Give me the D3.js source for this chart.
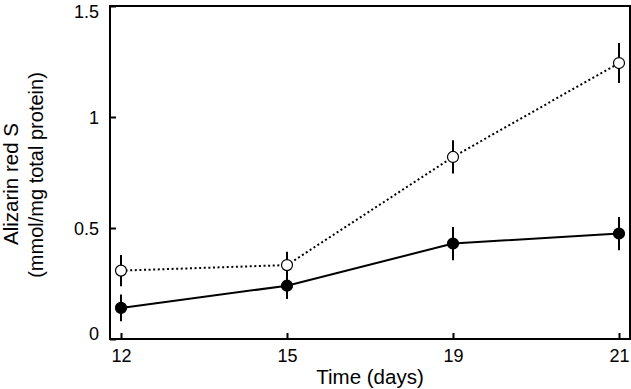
<!DOCTYPE html>
<html>
<head>
<meta charset="utf-8">
<script src="https://cdn.jsdelivr.net/npm/d3@7"></script>
<style>
  body { margin: 0; background: #fff; }
  text { font-family: "Liberation Sans", Arial, sans-serif; fill: #000; }
</style>
</head>
<body>
<svg id="chart" width="631" height="389"></svg>
<script>
// data
const days = ["12", "15", "19", "21"];
const filledMean = [0.14, 0.24, 0.43, 0.475];
const filledErr = [0.06, 0.06, 0.075, 0.075];
const openMean = [0.308, 0.333, 0.82, 1.243];
const openErr = [0.07, 0.06, 0.075, 0.09];
const yTicks = [0, 0.5, 1, 1.5];

const plotLeft = 110, plotRight = 630, plotTop = 6, plotBottom = 339;

const svg = d3.select("#chart");

const x = d3.scalePoint().domain(days).range([121, 619]);
const y = d3.scaleLinear().domain([0, 1.5]).range([plotBottom, plotTop]);

// frame
svg.append("rect")
  .attr("x", plotLeft).attr("y", plotTop)
  .attr("width", plotRight - plotLeft).attr("height", plotBottom - plotTop)
  .attr("fill", "none").attr("stroke", "#000").attr("stroke-width", 2);

// y axis (ticks inward)
const yAxis = svg.append("g")
  .attr("transform", "translate(" + plotLeft + ",0)")
  .call(d3.axisRight(y).tickValues(yTicks).tickSize(6).tickFormat(d3.format("")));
yAxis.select(".domain").remove();
yAxis.selectAll("line").attr("stroke-width", 2);
yAxis.selectAll("text")
  .attr("x", -11)
  .attr("dy", d => d === 0 ? "0.05em" : d === 1.5 ? "0.65em" : "0.35em")
  .attr("text-anchor", "end")
  .style("font-size", "18px");

// x axis (ticks inward)
const xAxis = svg.append("g")
  .attr("transform", "translate(0," + plotBottom + ")")
  .call(d3.axisTop(x).tickSize(6));
xAxis.select(".domain").remove();
xAxis.selectAll("line").attr("stroke-width", 2);
xAxis.selectAll("text")
  .attr("y", 23).attr("dy", 0)
  .attr("text-anchor", "middle")
  .style("font-size", "18px");

// axis titles
svg.append("text")
  .attr("x", 370).attr("y", 384)
  .attr("text-anchor", "middle")
  .style("font-size", "20.5px")
  .text("Time (days)");

svg.append("text")
  .attr("transform", "translate(18,184) rotate(-90)")
  .attr("text-anchor", "middle")
  .style("font-size", "20.5px")
  .text("Alizarin red S");

svg.append("text")
  .attr("transform", "translate(43,175) rotate(-90)")
  .attr("text-anchor", "middle")
  .style("font-size", "20px")
  .text("(mmol/mg total protein)");

function drawSeries(means, errs, dashed, filled) {
  const pts = days.map((d, i) => ({ d: d, m: means[i], e: errs[i] }));
  const line = d3.line().x(p => x(p.d)).y(p => y(p.m));

  svg.append("path")
    .datum(pts)
    .attr("d", line)
    .attr("fill", "none")
    .attr("stroke", "#000")
    .attr("stroke-width", 2)
    .attr("stroke-dasharray", dashed ? "2,2.6" : null);

  svg.selectAll(null)
    .data(pts)
    .enter()
    .append("line")
    .attr("x1", p => x(p.d)).attr("x2", p => x(p.d))
    .attr("y1", p => y(p.m - p.e)).attr("y2", p => y(p.m + p.e))
    .attr("stroke", "#000").attr("stroke-width", 2);

  svg.selectAll(null)
    .data(pts)
    .enter()
    .append("circle")
    .attr("cx", p => x(p.d)).attr("cy", p => y(p.m))
    .attr("r", 5.5)
    .attr("fill", filled ? "#000" : "#fff")
    .attr("stroke", "#000").attr("stroke-width", 1.2);
}

drawSeries(openMean, openErr, true, false);
drawSeries(filledMean, filledErr, false, true);
</script>
</body>
</html>
